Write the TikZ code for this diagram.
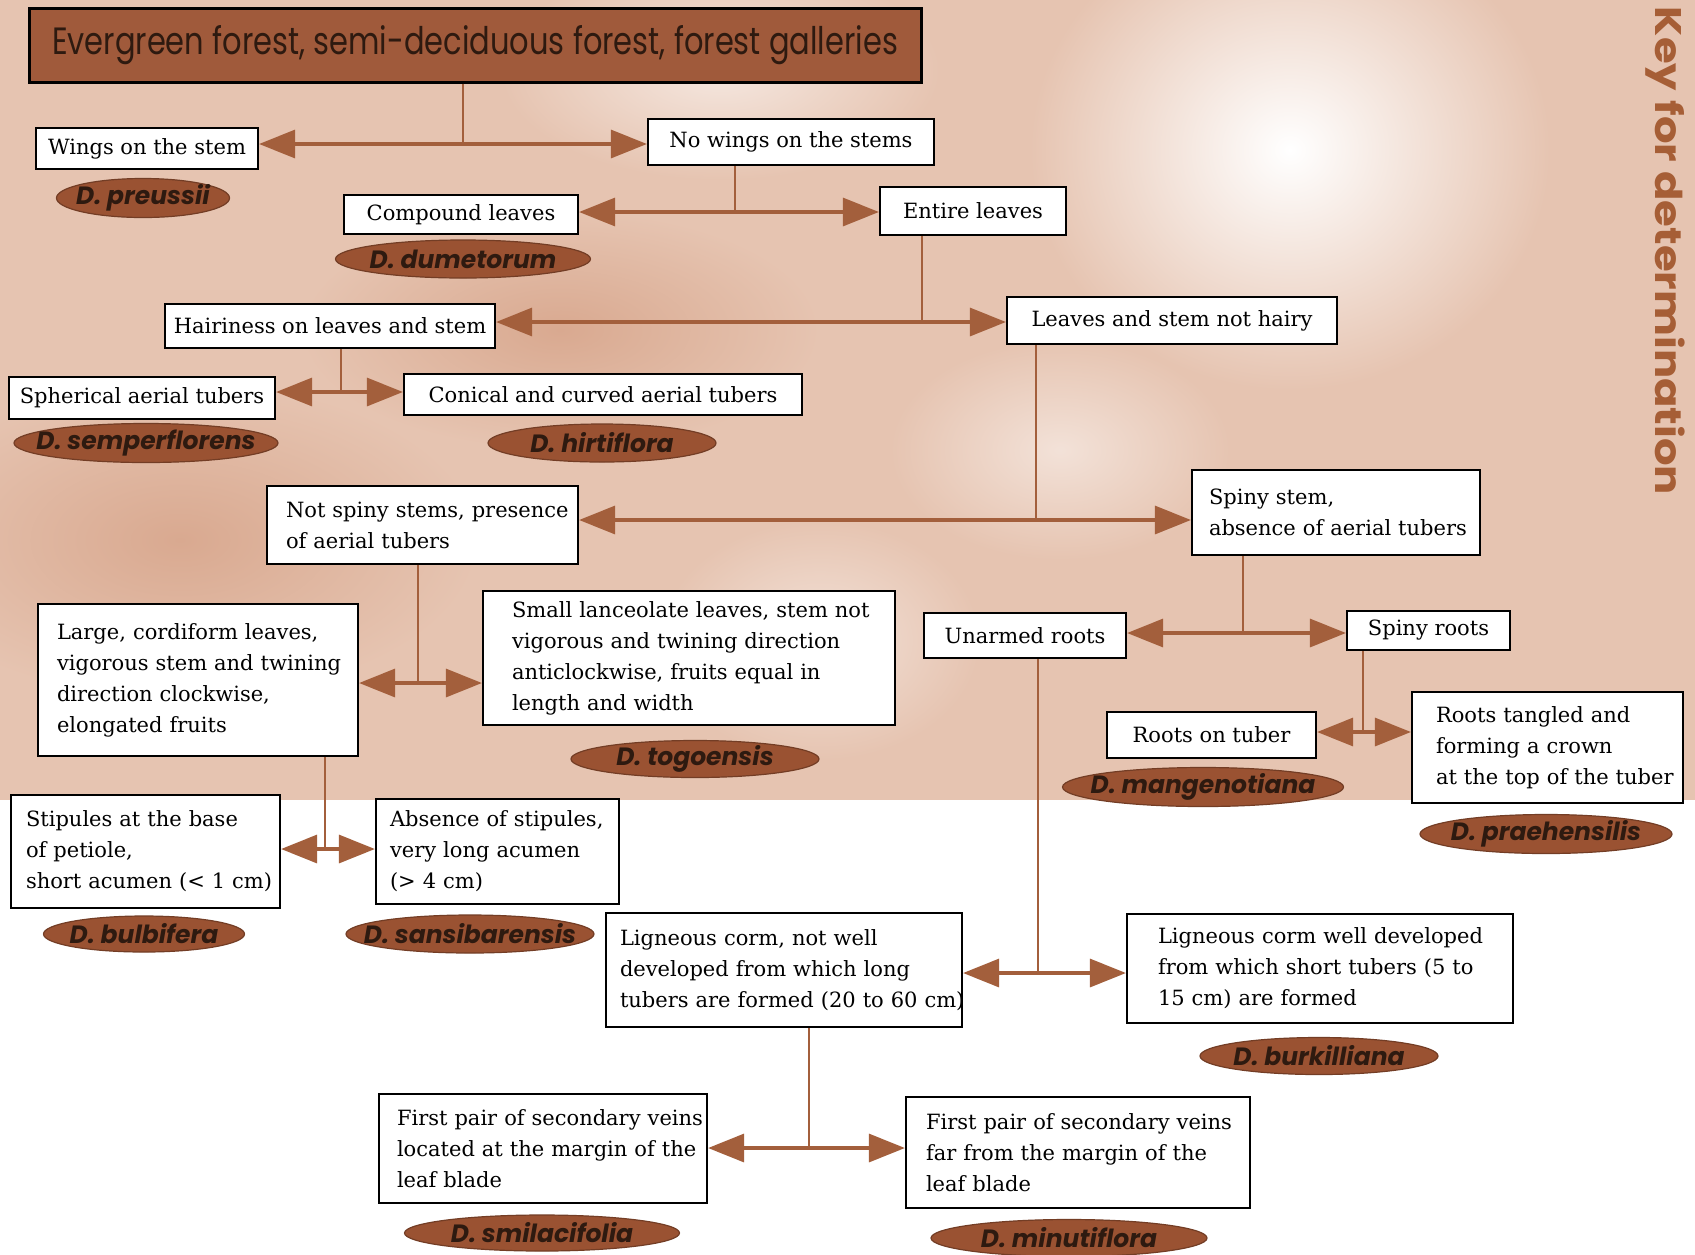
\documentclass[tikz,border=0pt]{standalone}
\usepackage{fontspec}
\usepackage{graphicx}
\setmainfont{DejaVu Serif}
\newfontfamily\popfont{Poppins}
\usetikzlibrary{arrows.meta,shapes.geometric}
\definecolor{bgpeach}{HTML}{E6C4B1}
\definecolor{bgdark}{HTML}{D9A990}
\definecolor{linebrown}{HTML}{A35F3C}
\definecolor{ellbrown}{HTML}{9A5232}
\definecolor{titlebrown}{HTML}{A05A3B}
\definecolor{darktxt}{HTML}{2E1A10}
\definecolor{keybrown}{HTML}{A65E36}
\tikzset{
  box/.style={draw=black, line width=1.1pt, fill=white, inner ysep=0pt, text=black,
    font=\fontsize{10.5}{15.5}\selectfont},
  spfill/.style={fill=ellbrown, draw=ellbrown!75!black, line width=0.6pt},
  sp/.style={inner sep=0pt,
    font=\popfont\bfseries\itshape\fontsize{12.5}{12.5}\selectfont, text=darktxt},
  conn/.style={draw=linebrown, line width=1.4pt},
  dbl/.style={draw=linebrown, line width=1.6pt,
    {Triangle[length=18pt,width=14pt]}-{Triangle[length=18pt,width=14pt]}},
}
\newcommand\boxC[6]{\node[box, align=center, inner xsep=0pt,
  minimum width={(#4-#2)*0.5pt}, minimum height={(#5-#3)*0.5pt}]
  (#1) at ({(#2+#4)/2},{(#3+#5)/2}) {#6};}
\newcommand\boxL[7]{\pgfmathsetmacro\mytw{(#4-#2-2*#6)*0.5}\pgfmathsetmacro\mypx{#6*0.5}%
  \node[box, align=left, text width=\mytw pt, inner xsep=\mypx pt,
  minimum width={(#4-#2)*0.5pt}, minimum height={(#5-#3)*0.5pt}]
  (#1) at ({(#2+#4)/2},{(#3+#5)/2}) {#7};}
\newcommand\spn[5]{\path[spfill] (#2,#3) ellipse ({#4/2} and {#5/2});
  \node[sp] (#1) at (#2,#3) {D. #1};}
\newcommand\Ln[1]{\mbox{#1}}
\begin{document}
\begin{tikzpicture}[x=0.5pt,y=-0.5pt]
\useasboundingbox (0,0) rectangle (1695,1254);
% background
\fill[white] (0,0) rectangle (1695,1254);
\fill[bgpeach] (0,0) rectangle (1695,800);
\shade[inner color=bgdark, outer color=bgpeach] (180,540) ellipse (300 and 160);
\shade[inner color=bgdark, outer color=bgpeach] (560,330) ellipse (260 and 120);
\shade[inner color=white, outer color=bgpeach] (1290,150) ellipse (260 and 240);
\shade[inner color=white!60!bgpeach, outer color=bgpeach] (720,70) ellipse (220 and 110);
\shade[inner color=white!50!bgpeach, outer color=bgpeach] (1060,450) ellipse (170 and 110);
\shade[inner color=white!50!bgpeach, outer color=bgpeach] (820,640) ellipse (160 and 120);

% title
\node[draw=black, line width=1.5pt, fill=titlebrown, inner sep=0pt, text=darktxt,
  minimum width={(921-29)*0.5pt}, minimum height={(82-8)*0.5pt}]
  (title) at ({(29+921)/2},{(8+82)/2})
  {\resizebox{423pt}{\height}{\popfont\fontsize{19}{19}\selectfont Evergreen forest, semi-deciduous forest, forest galleries}};

% key
\node[rotate=-90, text=keybrown, inner sep=0pt,
  font=\popfont\bfseries\fontsize{18.5}{18.5}\selectfont] (key) at (1665,251)
  {\resizebox{244pt}{\height}{Key for determination}};

% boxes
\boxC{wings}{36}{128}{258}{169}{Wings on the stem}
\boxC{nowings}{648}{119}{934}{165}{No wings on the stems}
\boxC{compound}{344}{195}{578}{234}{Compound leaves}
\boxC{entire}{880}{187}{1066}{235}{Entire leaves}
\boxC{hairy}{165}{304}{495}{348}{Hairiness on leaves and stem}
\boxC{nothairy}{1007}{297}{1337}{344}{Leaves and stem not hairy}
\boxC{spherical}{9}{377}{275}{419}{Spherical aerial tubers}
\boxC{conical}{404}{374}{802}{415}{Conical and curved aerial tubers}
\boxL{notspiny}{267}{486}{578}{564}{19}{\Ln{Not spiny stems, presence}\\\Ln{of aerial tubers}}
\boxL{spiny}{1192}{470}{1480}{555}{17}{\Ln{Spiny stem,}\\\Ln{absence of aerial tubers}}
\boxL{large}{38}{604}{358}{756}{19}{\Ln{Large, cordiform leaves,}\\\Ln{vigorous stem and twining}\\\Ln{direction clockwise,}\\\Ln{elongated fruits}}
\boxL{small}{483}{591}{895}{725}{29}{\Ln{Small lanceolate leaves, stem not}\\\Ln{vigorous and twining direction}\\\Ln{anticlockwise, fruits equal in}\\\Ln{length and width}}
\boxC{unarmed}{924}{613}{1126}{658}{Unarmed roots}
\boxC{spinyroots}{1347}{611}{1510}{650}{Spiny roots}
\boxC{rootstuber}{1107}{712}{1316}{758}{Roots on tuber}
\boxL{tangled}{1412}{692}{1683}{803}{24}{\Ln{Roots tangled and}\\\Ln{forming a crown}\\\Ln{at the top of the tuber}}
\boxL{stipules}{11}{795}{280}{908}{15}{\Ln{Stipules at the base}\\\Ln{of petiole,}\\\Ln{short acumen (< 1 cm)}}
\boxL{absence}{376}{799}{619}{904}{14}{\Ln{Absence of stipules,}\\\Ln{very long acumen}\\\Ln{(> 4 cm)}}
\boxL{lignot}{606}{913}{962}{1027}{14}{\Ln{Ligneous corm, not well}\\\Ln{developed from which long}\\\Ln{tubers are formed (20 to 60 cm)}}
\boxL{ligwell}{1127}{914}{1513}{1023}{31}{\Ln{Ligneous corm well developed}\\\Ln{from which short tubers (5 to}\\\Ln{15 cm) are formed}}
\boxL{firstmargin}{379}{1094}{707}{1203}{18}{\Ln{First pair of secondary veins}\\\Ln{located at the margin of the}\\\Ln{leaf blade}}
\boxL{firstfar}{906}{1097}{1250}{1208}{20}{\Ln{First pair of secondary veins}\\\Ln{far from the margin of the}\\\Ln{leaf blade}}

% species
\spn{preussii}{143}{198}{173}{39}
\spn{dumetorum}{463}{259}{255}{38}
\spn{semperflorens}{146}{443}{264}{39}
\spn{hirtiflora}{602}{443}{228}{38}
\spn{togoensis}{695}{759}{248}{37}
\spn{mangenotiana}{1203}{787}{281}{39}
\spn{praehensilis}{1546}{834}{252}{39}
\spn{bulbifera}{144}{934}{201}{36}
\spn{sansibarensis}{470}{934}{248}{38}
\spn{burkilliana}{1319}{1056}{238}{37}
\spn{smilacifolia}{542}{1233}{275}{36}
\spn{minutiflora}{1069}{1238}{276}{37}

% junctions
\coordinate (j1) at (463,144);
\coordinate (j2) at (735,212);
\coordinate (j3) at (922,322);
\coordinate (j4) at (341,392);
\coordinate (j5) at (1036,520);
\coordinate (j6) at (418,683);
\coordinate (j7) at (1243,633);
\coordinate (j8) at (1363,732);
\coordinate (j9) at (325,849);
\coordinate (j10) at (1038,973);
\coordinate (j11) at (809,1148);

\draw[conn] (title.south -| j1) -- (j1);
\draw[dbl] (wings.east |- j1) -- (nowings.west |- j1);
\draw[conn] (nowings.south -| j2) -- (j2);
\draw[dbl] (compound.east |- j2) -- (entire.west |- j2);
\draw[conn] (entire.south -| j3) -- (j3);
\draw[dbl] (hairy.east |- j3) -- (nothairy.west |- j3);
\draw[conn] (hairy.south -| j4) -- (j4);
\draw[dbl] (spherical.east |- j4) -- (conical.west |- j4);
\draw[conn] (nothairy.south -| j5) -- (j5);
\draw[dbl] (notspiny.east |- j5) -- (spiny.west |- j5);
\draw[conn] (notspiny.south -| j6) -- (j6);
\draw[dbl] (large.east |- j6) -- (small.west |- j6);
\draw[conn] (spiny.south -| j7) -- (j7);
\draw[dbl] (unarmed.east |- j7) -- (spinyroots.west |- j7);
\draw[conn] (spinyroots.south -| j8) -- (j8);
\draw[dbl] (rootstuber.east |- j8) -- (tangled.west |- j8);
\draw[conn] (large.south -| j9) -- (j9);
\draw[dbl] (stipules.east |- j9) -- (absence.west |- j9);
\draw[conn] (unarmed.south -| j10) -- (j10);
\draw[dbl] (lignot.east |- j10) -- (ligwell.west |- j10);
\draw[conn] (lignot.south -| j11) -- (j11);
\draw[dbl] (firstmargin.east |- j11) -- (firstfar.west |- j11);
\end{tikzpicture}
\end{document}
